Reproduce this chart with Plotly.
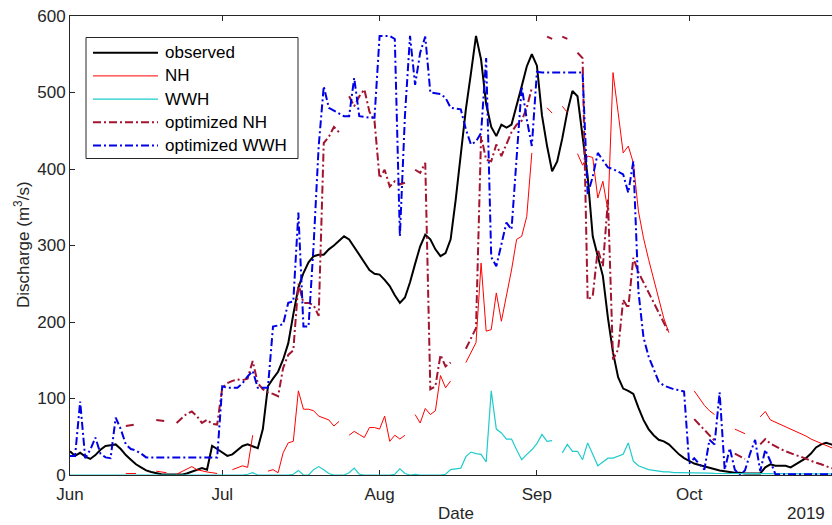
import pandas as pd
import plotly.graph_objects as go

N = None
start_date = "2019-06-01"
n_days = 153

observed = [
    31, 25, 29, 24, 21, 26, 33, 38, 39, 40,
    34, 26, 20, 14, 10, 6, 4, 2, 1, 0.5,
    0.3, 0.3, 0.5, 2, 4, 7, 9, 7, 38, 34,
    29, 25, 27, 32, 38, 40, 38, 35, 60, 116,
    126, 135, 151, 172, 210, 245, 264, 278, 286, 288,
    288, 295, 300, 306, 312, 308, 298, 288, 278, 268,
    263, 262, 255, 247, 235, 225, 232, 252, 276, 299,
    314, 308, 295, 286, 290, 308, 360, 420, 478, 525,
    574, 543, 485, 455, 443, 458, 454, 458, 482, 508,
    534, 550, 535, 470, 430, 397, 410, 440, 475, 502,
    495, 443, 390, 312, 285, 260, 205, 160, 128, 113,
    110, 106, 88, 72, 60, 52, 46, 44, 40, 33,
    27, 22, 18, 15, 13, 11, 9, 7, 6, 5,
    4, 3, 3, 2, 2, 2, 2, 10, 14, 12,
    12, 12, 10, 14, 17, 22, 28, 36, 40, 42,
    40, 38, 36,
]

nh = [
    N, N, N, N, N, N, N, N, N, N,
    N, 2, 2, 2, N, N, N, 5, 4, 3,
    N, 1, 4, 8, 11, 7, 5, 4, 3, 2,
    N, N, 7, 10, 12, 10, 52, N, N, 5,
    7, 3, 29, 42, 44, 110, 86, 86, 84, 77,
    75, 72, 64, 70, N, 52, 57, 53, 49, 62,
    62, 60, 77, 44, 52, 47, 52, N, 79, 68,
    87, 79, 84, 130, 114, 123, N, N, 147, 160,
    173, 277, 188, 190, 238, 201, 235, 268, 308, 312,
    338, 421, N, N, 480, 473, N, 482, 474, N,
    420, 405, 417, 415, 362, 384, 345, 526, 474, 421,
    430, 408, 345, 310, 282, 255, 228, 205, 186, N,
    N, N, N, 110, 100, 91, 84, 79, N, N,
    N, 60, 57, 54, N, N, 76, 83, 72, 69,
    67, 64, 61, 58, 54, 51, 47, 44, 41, 38,
    35, 33, 31,
]

wwh = [
    0, 0, 0, 0, 0, 0, 0, 0, 0, 0,
    0, 0, 0, 0, 0, 0, 0, 0, 0, 0,
    0, 0, 0, 0, 0, 0, 0, 0, 0, 0,
    0, 0, 0, 0, 0, 1, 3, 0, 0, 0,
    0, 0, 0, 0, 1, 6, 0, 0, 7, 11,
    7, 2, 0, 0, 0, 3, 9, 1, 0, 0,
    0, 0, 0, 0, 1, 8, 2, 0, 1, 0,
    0, 0, 0, 0, 1, 7, 8, 9, 24, 30,
    28, 27, 17, 110, 60, 55, 47, 47, 33, 20,
    27, 33, 41, 53, 44, 45, N, 29, 40, 31,
    31, 20, 42, 27, 12, 17, 22, 22, 25, 27,
    42, 18, 12, 9, 7, 6, 5, 4, 4, 3,
    3, 3, 3, 3, 2.5, 2.5, 2.5, 2, 2, 2,
    2, 2, 2, 2, 2, 2, 2, 1.5, 1.5, 1.5,
    1.5, 1.5, 1.5, 1.5, 1.5, 1.5, 1.5, 1.5, 1.5, 1.5,
    1.5, 1.5, 1.5,
]

opt_nh = [
    N, N, N, N, N, N, N, N, N, N,
    N, 64, 65, 66, N, N, N, 72, 71, 70,
    N, 68, 74, 80, 83, 77, 68, 72, 67, 66,
    114, 120, 123, 125, 124, 126, 149, 120, 112, 108,
    106, 103, 140, 157, 163, 250, 225, 225, 222, 208,
    434, 442, 455, 448, N, 495, 482, 495, 504, 475,
    463, 388, 399, 377, 384, 380, 382, N, 399, 395,
    408, 112, 116, 157, 142, 147, N, N, 165, 178,
    192, 443, 412, 410, 432, 417, 432, 448, 458, 463,
    480, 506, N, N, 573, 570, N, 573, 570, N,
    552, 545, 229, 234, 295, 273, 360, 151, 164, 229,
    218, 284, 265, 252, 238, 225, 212, 198, 186, N,
    N, N, N, 73, 66, 58, 52, 45, N, N,
    N, 28, 24, 21, N, N, 40, 47, 41, 37,
    34, 31, 28, 26, 24, 21, 19, 16, 14, 11,
    9, 8, 7,
]

opt_wwh = [
    25, 25, 96, 22, 33, 49, 28, 23, 22, 75,
    60, 40, 34, 32, 28, 23, 23, 23, 23, 23,
    23, 23, 23, 23, 23, 23, 23, 23, 23, 23,
    116, 114, 114, 114, 120, 129, 136, 114, 114, 114,
    194, 196, 197, 225, 227, 343, 194, 194, 300, 430,
    508, 480, 476, 472, 469, 469, 519, 469, 468, 467,
    467, 574, 574, 574, 570, 312, 470, 574, 510, 552,
    573, 500, 499, 498, 493, 480, 479, 478, 452, 432,
    436, 447, 545, 285, 273, 303, 330, 321, 420, 508,
    465, 430, 527, 526, 526, 526, 526, 526, 526, 526,
    526, 526, 367, 390, 421, 412, 402, 400, 396, 393,
    369, 410, 240, 180, 155, 138, 122, 117, 114, 112,
    111, 109, 15, 22, 14, 7, 46, 40, 108, 7,
    35, 7, 0, 6, 28, 46, 5, 33, 18, 1,
    1, 1, 1, 1, 1, 1, 1, 1, 1, 1,
    1, 1, 1,
]

tick_dates = ["2019-06-01", "2019-07-01", "2019-08-01", "2019-09-01", "2019-10-01"]
tick_labels = ["Jun", "Jul", "Aug", "Sep", "Oct"]
y_ticks = [0, 100, 200, 300, 400, 500, 600]

dates = pd.date_range(start_date, periods=n_days, freq="D")

FONT = "Liberation Sans, Arial, sans-serif"
FS = 17
AX = "#262626"
DASHDOT = "8px,3px,2px,3px"

W, H = 832, 525
ML, MR, MT, MB = 70, 0, 16, 50
PW, PH = W - ML - MR, H - MT - MB


def px(x):
    return (x - ML) / PW


def py(y):
    return (H - MB - y) / PH


series = [
    ("observed", observed, dict(color="#000000", width=2)),
    ("NH", nh, dict(color="#FF0000", width=1)),
    ("WWH", wwh, dict(color="#1FCBCB", width=1.2)),
    ("optimized NH", opt_nh, dict(color="#A2142F", width=2, dash=DASHDOT)),
    ("optimized WWH", opt_wwh, dict(color="#0000E6", width=2, dash=DASHDOT)),
]

fig = go.Figure()
for name, vals, line in series:
    fig.add_trace(go.Scatter(
        x=dates, y=vals, mode="lines", name=name, line=line,
        connectgaps=False, showlegend=False,
    ))

# MATLAB-style legend box (long line samples)
shapes = [dict(type="rect", xref="paper", yref="paper",
               x0=px(86), x1=px(298), y0=py(158.5), y1=py(37.5),
               line=dict(color=AX, width=1), fillcolor="white", layer="above")]
annotations = []
for i, (name, _, line) in enumerate(series):
    yc = 52.7 + 23.2 * i
    shapes.append(dict(type="line", xref="paper", yref="paper",
                       x0=px(93), x1=px(158), y0=py(yc), y1=py(yc),
                       line=dict(color=line["color"], width=line["width"],
                                 dash=line.get("dash", "solid")),
                       layer="above"))
    annotations.append(dict(text=name, xref="paper", yref="paper",
                            x=px(163), y=py(yc), xanchor="left", yanchor="middle",
                            showarrow=False,
                            font=dict(family=FONT, size=FS, color="#000000")))

annotations += [
    dict(text="Date", xref="paper", yref="paper", x=px(456), y=py(513),
         xanchor="center", yanchor="middle", showarrow=False,
         font=dict(family=FONT, size=FS, color=AX)),
    dict(text="2019", xref="paper", yref="paper", x=px(827), y=py(513),
         xanchor="right", yanchor="middle", showarrow=False,
         font=dict(family=FONT, size=FS, color=AX)),
    dict(text="Discharge (m<sup>3</sup>/s)", xref="paper", yref="paper",
         x=px(22), y=py(245), xanchor="center", yanchor="middle",
         textangle=-90, showarrow=False,
         font=dict(family=FONT, size=FS, color=AX)),
]

fig.update_layout(
    width=W, height=H,
    margin=dict(l=ML, r=MR, t=MT, b=MB),
    paper_bgcolor="white", plot_bgcolor="white",
    font=dict(family=FONT, size=FS, color=AX),
    showlegend=False,
    xaxis=dict(
        type="date",
        range=["2019-06-01", "2019-10-29 03:30"],
        tickvals=tick_dates, ticktext=tick_labels,
        ticks="inside", ticklen=5, tickcolor=AX, tickwidth=1,
        showline=True, linecolor=AX, linewidth=1, mirror="ticks",
        showgrid=False, zeroline=False, layer="below traces",
        tickfont=dict(family=FONT, size=FS, color=AX),
        ticklabelstandoff=4,
    ),
    yaxis=dict(
        range=[0, 600], tickvals=y_ticks,
        ticks="inside", ticklen=5, tickcolor=AX, tickwidth=1,
        showline=True, linecolor=AX, linewidth=1, mirror=False,
        showgrid=False, zeroline=False, layer="below traces",
        tickfont=dict(family=FONT, size=FS, color=AX),
    ),
    shapes=shapes,
    annotations=annotations,
)

fig.write_html("out.html")
